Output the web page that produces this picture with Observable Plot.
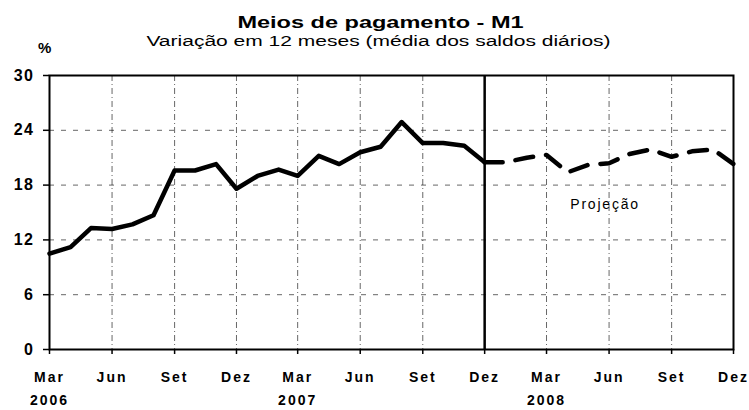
<!DOCTYPE html>
<html><head><meta charset="utf-8">
<script src="https://cdn.jsdelivr.net/npm/d3@7"></script>
<script src="https://cdn.jsdelivr.net/npm/@observablehq/plot@0.6"></script>
<style>
body{margin:0;background:#fff;font-family:"Liberation Sans",Arial,sans-serif;}
#wrap{width:749px;height:410px;position:relative;overflow:hidden;background:#fff;}
#head{position:relative;height:56px;}
.t{position:absolute;width:749px;text-align:center;white-space:nowrap;color:#000;}
#title{left:6px;top:15px;font-size:16px;line-height:16px;font-weight:bold;transform:scaleX(1.47);transform-origin:374.5px 0;}
#subtitle{left:4px;top:34px;font-size:14px;line-height:14px;transform:scaleX(1.5);transform-origin:374.5px 0;}
#unit{position:absolute;left:38px;top:40px;font-size:15px;line-height:15px;font-weight:bold;color:#000;}
#chart svg g[aria-label="x-axis tick label"] text{letter-spacing:2px;}
#chart svg g[aria-label="y-axis tick label"] text{letter-spacing:1.5px;}
#chart svg g[aria-label="text"] text{letter-spacing:1.8px;}
</style>
</head><body>
<div id="wrap">
  <div id="head">
    <div class="t" id="title"></div>
    <div class="t" id="subtitle"></div>
    <div id="unit"></div>
  </div>
  <div id="chart"></div>
</div>
<script>
const titleText = "Meios de pagamento - M1";
const subtitleText = "Variação em 12 meses (média dos saldos diários)";
const unitText = "%";

const actualMonths = ["2006-03","2006-04","2006-05","2006-06","2006-07","2006-08","2006-09","2006-10","2006-11","2006-12",
  "2007-01","2007-02","2007-03","2007-04","2007-05","2007-06","2007-07","2007-08","2007-09","2007-10","2007-11","2007-12"];
const actualValues = [10.5,11.2,13.3,13.2,13.7,14.7,19.6,19.6,20.3,17.6,
  19.0,19.7,19.0,21.2,20.3,21.6,22.2,24.9,22.6,22.6,22.3,20.5];

const projMonths = ["2007-12","2008-01","2008-02","2008-03","2008-04","2008-05","2008-06","2008-07","2008-08","2008-09","2008-10","2008-11","2008-12"];
const projValues = [20.5,20.5,21.0,21.3,19.4,20.2,20.4,21.4,21.9,21.1,21.7,21.9,20.3];

const tickMonths = ["2006-03","2006-06","2006-09","2006-12","2007-03","2007-06","2007-09","2007-12","2008-03","2008-06","2008-09","2008-12"];
const tickNames = ["Mar","Jun","Set","Dez","Mar","Jun","Set","Dez","Mar","Jun","Set","Dez"];
const yearMonths = ["2006-03","2007-03","2008-03"];
const yearNames = ["2006","2007","2008"];
const yTicks = [0,6,12,18,24,30];
const yGrid = [6,12,18,24];
const splitMonth = "2007-12";
const noteText = "Projeção";
const noteMonth = "2008-06";
const noteValue = 15.9;

document.getElementById("title").textContent = titleText;
document.getElementById("subtitle").textContent = subtitleText;
document.getElementById("unit").textContent = unitText;

const parse = s => new Date(s + "-01T00:00:00Z");
const key = d => d.toISOString().slice(0,7);
const tickNameMap = new Map(tickMonths.map((m,i)=>[m, tickNames[i]]));
const yearNameMap = new Map(yearMonths.map((m,i)=>[m, yearNames[i]]));

const actual = actualMonths.map((m,i)=>({date: parse(m), value: actualValues[i]}));
const proj = projMonths.map((m,i)=>({date: parse(m), value: projValues[i]}));
const tickDates = tickMonths.map(parse);
const yearDates = yearMonths.map(parse);

const chart = Plot.plot({
  width: 749, height: 354,
  marginLeft: 49, marginRight: 16, marginTop: 19, marginBottom: 61,
  style: {fontFamily: "Liberation Sans, Arial, sans-serif", fontSize: "14px", color: "#000", background: "#fff", overflow: "visible"},
  x: {type: "utc", domain: [parse(tickMonths[0]), parse(tickMonths[tickMonths.length-1])]},
  y: {domain: [yTicks[0], yTicks[yTicks.length-1]]},
  marks: [
    Plot.gridY(yGrid, {stroke: "#000", strokeOpacity: 0.6, strokeDasharray: "5,7"}),
    Plot.gridX(tickDates.slice(1, -1), {stroke: "#000", strokeOpacity: 0.6, strokeDasharray: "6,3,1,3"}),
    Plot.frame({stroke: "#000", strokeWidth: 2}),
    Plot.ruleX([parse(splitMonth)], {stroke: "#000", strokeWidth: 2.5}),
    Plot.axisY(yTicks, {tickSize: 6, tickPadding: 9, fontSize: 16, fontWeight: "bold", label: null, strokeWidth: 1.5}),
    Plot.axisX(tickDates, {tickSize: 5, tickPadding: 18, fontWeight: "bold", tickFormat: d => tickNameMap.get(key(d)), label: null, strokeWidth: 1.5}),
    Plot.axisX(yearDates, {tickSize: 0, tickPadding: 46, fontWeight: "bold", tickFormat: d => yearNameMap.get(key(d)), label: null}),
    Plot.line(actual, {x: "date", y: "value", stroke: "#000", strokeWidth: 4.5}),
    Plot.line(proj, {x: "date", y: "value", stroke: "#000", strokeWidth: 4.5, strokeDasharray: "18,13"}),
    Plot.text([{date: parse(noteMonth), value: noteValue, label: noteText}], {x: "date", y: "value", text: "label", fontSize: 14, dx: -4})
  ]
});

document.getElementById("chart").appendChild(chart);
</script>
</body></html>
